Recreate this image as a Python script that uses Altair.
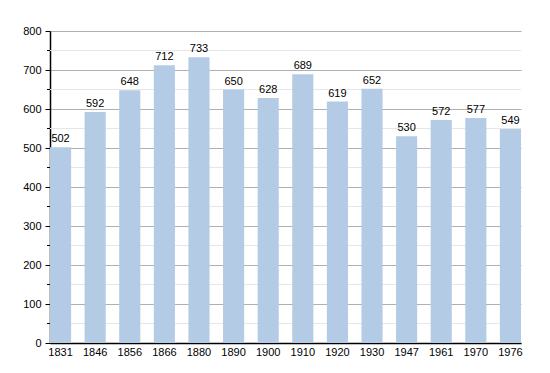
import altair as alt
import pandas as pd

years = ["1831", "1846", "1856", "1866", "1880", "1890", "1900", "1910", "1920", "1930", "1947", "1961", "1970", "1976"]
population = [502, 592, 648, 712, 733, 650, 628, 689, 619, 652, 530, 572, 577, 549]
major_ticks = [0, 100, 200, 300, 400, 500, 600, 700, 800]
minor_ticks = [50, 150, 250, 350, 450, 550, 650, 750]

df = pd.DataFrame({"year": years, "pop": population})
minor_df = pd.DataFrame({"v": minor_ticks})

yscale = alt.Scale(domain=[0, 800], nice=False)
FONT = "Liberation Sans"
yaxis = alt.Axis(values=major_ticks, grid=True, gridColor="#b0b0b0", tickColor="#000000",
                 tickSize=5, domainColor="#000000", labelColor="#000000",
                 labelFontSize=11, labelFont=FONT, labelPadding=4)

minor_grid = alt.Chart(minor_df).mark_rule(color="#e6e6e6", strokeWidth=1).encode(
    y=alt.Y("v:Q", scale=yscale, title=None, axis=yaxis),
    x=alt.value(0), x2=alt.value(471),
)
minor_tick = alt.Chart(minor_df).mark_rule(color="#000000", strokeWidth=1, clip=False).encode(
    y=alt.Y("v:Q", scale=yscale, title=None, axis=yaxis),
    x=alt.value(-3), x2=alt.value(0),
)

bars = alt.Chart(df).mark_bar(color="#b3cbe4").encode(
    x=alt.X("year:N", sort=years, title=None,
            scale=alt.Scale(paddingInner=0.39, paddingOuter=0.0),
            axis=alt.Axis(labelAngle=0, ticks=False, domainColor="#000000", labelColor="#000000",
                          labelFontSize=11, labelFont=FONT, labelPadding=3, grid=False)),
    y=alt.Y("pop:Q", scale=yscale, title=None, axis=yaxis),
)

text = alt.Chart(df).mark_text(dy=-8, fontSize=11, font=FONT, color="#000000").encode(
    x=alt.X("year:N", sort=years),
    y=alt.Y("pop:Q", scale=yscale, title=None, axis=yaxis),
    text="pop:Q",
)

chart = alt.layer(minor_grid, bars, minor_tick, text).properties(
    width=471, height=312,
    autosize=alt.AutoSizeParams(type="none"),
    padding={"left": 42, "top": 23, "right": 21, "bottom": 22},
).configure_view(stroke=None).configure_axis(domainWidth=1.5)

chart.save("out.html", embed_options={"renderer": "svg", "actions": False})
